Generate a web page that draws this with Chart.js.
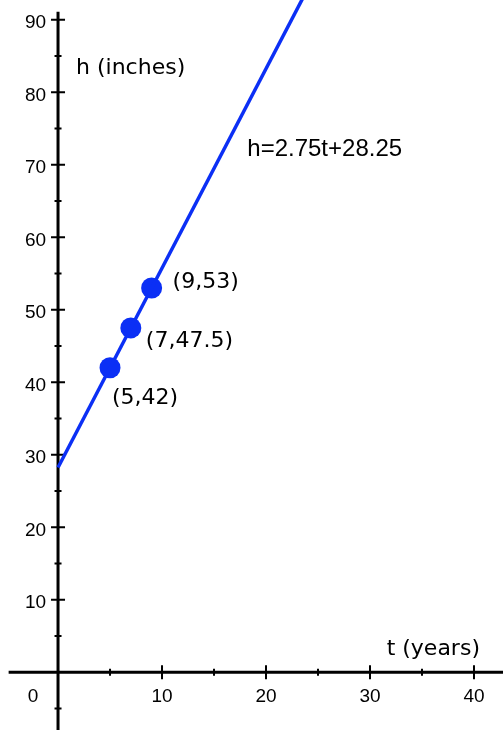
<!DOCTYPE html>
<html>
<head>
<meta charset="utf-8">
<script src="https://cdn.jsdelivr.net/npm/chart.js@4"></script>
<style>
  html, body { margin: 0; padding: 0; background: #fff; }
  canvas { display: block; }
</style>
</head>
<body>
<canvas id="grafico" width="503" height="730"></canvas>
<script>
// datos
const lineaT = [0, 24];
const lineaH = [28.25, 94.25];
const puntosT = [5, 7, 9];
const puntosH = [42, 47.5, 53];
const etiquetasPuntos = ['(5,42)', '(7,47.5)', '(9,53)'];
const ticksX = [10, 20, 30, 40];
const ticksY = [10, 20, 30, 40, 50, 60, 70, 80, 90];
const menoresX = [5, 15, 25, 35];
const menoresY = [-5, 5, 15, 25, 35, 45, 55, 65, 75, 85];

const AZUL = '#0b2ff5';

// Ejes cruzados dibujados con las escalas del grafico
const ejesPlugin = {
    id: 'ejes',
    beforeDatasetsDraw(chart) {
        const ctx = chart.ctx;
        const sx = chart.scales.x;
        const sy = chart.scales.y;
        const x0 = sx.getPixelForValue(0);
        const y0 = sy.getPixelForValue(0);
        ctx.save();
        ctx.strokeStyle = '#000';
        ctx.lineWidth = 3;
        ctx.beginPath();
        ctx.moveTo(sx.getPixelForValue(-4.75), y0);
        ctx.lineTo(chart.width, y0);
        ctx.moveTo(x0, sy.getPixelForValue(91.1));
        ctx.lineTo(x0, chart.height);
        ctx.stroke();

        ctx.lineWidth = 2;
        ctx.beginPath();
        ticksX.forEach(v => {
            const p = sx.getPixelForValue(v);
            ctx.moveTo(p, y0 - 7); ctx.lineTo(p, y0 + 7);
        });
        menoresX.forEach(v => {
            const p = sx.getPixelForValue(v);
            ctx.moveTo(p, y0 - 3.5); ctx.lineTo(p, y0 + 3.5);
        });
        ticksY.forEach(v => {
            const p = sy.getPixelForValue(v);
            ctx.moveTo(x0 - 7, p); ctx.lineTo(x0 + 7, p);
        });
        menoresY.forEach(v => {
            const p = sy.getPixelForValue(v);
            ctx.moveTo(x0 - 3.5, p); ctx.lineTo(x0 + 3.5, p);
        });
        ctx.stroke();

        ctx.fillStyle = '#000';
        ctx.font = '19px "Liberation Sans", Arial, sans-serif';
        ctx.textBaseline = 'middle';
        ctx.textAlign = 'right';
        ticksY.forEach(v => {
            ctx.fillText(String(v), x0 - 12, sy.getPixelForValue(v) + 3);
        });
        ctx.textAlign = 'center';
        ticksX.forEach(v => {
            ctx.fillText(String(v), sx.getPixelForValue(v), y0 + 24);
        });
        ctx.fillText('0', x0 - 25, y0 + 24);

        ctx.font = '22px "DejaVu Sans", sans-serif';
        ctx.textAlign = 'left';
        ctx.fillText('h (inches)', x0 + 18, sy.getPixelForValue(83.3));
        ctx.fillText('t (years)', sx.getPixelForValue(31.6), y0 - 23);
        ctx.restore();
    },
    afterDatasetsDraw(chart) {
        const ctx = chart.ctx;
        const sx = chart.scales.x;
        const sy = chart.scales.y;
        ctx.save();
        ctx.fillStyle = '#000';
        ctx.textBaseline = 'middle';
        ctx.textAlign = 'left';
        ctx.font = '22px "DejaVu Sans", sans-serif';
        // desplazamiento en pixeles de cada etiqueta respecto a su punto
        const desplaz = [[2, 30], [15, 13], [21, -6]];
        puntosT.forEach((t, i) => {
            ctx.fillText(etiquetasPuntos[i],
                sx.getPixelForValue(t) + desplaz[i][0],
                sy.getPixelForValue(puntosH[i]) + desplaz[i][1]);
        });
        ctx.font = '24px "Liberation Sans", Arial, sans-serif';
        ctx.fillText('h=2.75t+28.25', sx.getPixelForValue(18.2), sy.getPixelForValue(72.1));
        ctx.restore();
    }
};

new Chart(document.getElementById('grafico'), {
    type: 'scatter',
    data: {
        datasets: [
            {
                data: lineaT.map((t, i) => ({ x: t, y: lineaH[i] })),
                showLine: true,
                borderColor: AZUL,
                borderWidth: 3.5,
                pointRadius: 0
            },
            {
                data: puntosT.map((t, i) => ({ x: t, y: puntosH[i] })),
                backgroundColor: AZUL,
                borderColor: AZUL,
                pointRadius: 10.5,
                borderWidth: 0
            }
        ]
    },
    options: {
        responsive: false,
        animation: false,
        layout: { padding: 0, autoPadding: false },
        plugins: { legend: { display: false }, tooltip: { enabled: false } },
        scales: {
            x: { type: 'linear', min: -5.58, max: 42.79, display: false },
            y: { type: 'linear', min: -7.96, max: 92.73, display: false }
        }
    },
    plugins: [ejesPlugin]
});
</script>
</body>
</html>
